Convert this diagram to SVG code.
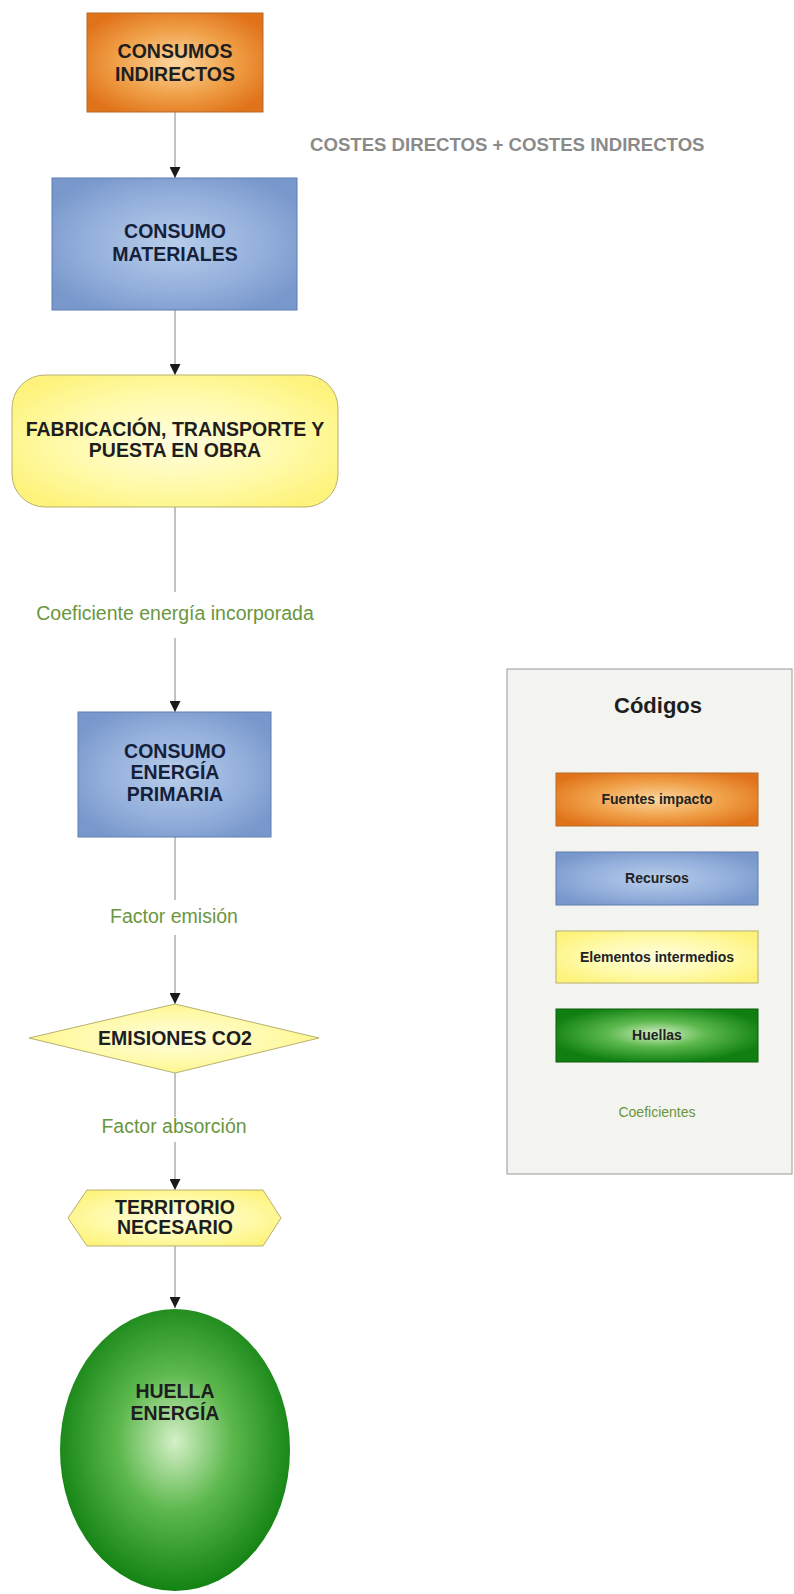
<svg xmlns="http://www.w3.org/2000/svg" width="794" height="1594" viewBox="0 0 794 1594">
<style>
.t{font-family:"Liberation Sans",Arial,sans-serif;font-weight:bold;font-size:19.5px;fill:#1e1e1e;text-anchor:middle}
.tb{fill:#15203a}
.lbl{font-family:"Liberation Sans",Arial,sans-serif;font-size:19.5px;fill:#6a9640;text-anchor:middle}
.lg{font-family:"Liberation Sans",Arial,sans-serif;font-weight:bold;font-size:14px;fill:#222;text-anchor:middle}
.con{stroke:#c2c2c2;stroke-width:2;fill:none}
</style>
<defs>
<radialGradient id="gO" cx="50%" cy="50%" r="60%"><stop offset="0" stop-color="#fbd6a0"/><stop offset="0.55" stop-color="#f0a048"/><stop offset="1" stop-color="#e0731a"/></radialGradient>
<radialGradient id="gB" cx="50%" cy="50%" r="60%"><stop offset="0" stop-color="#b8cdea"/><stop offset="0.6" stop-color="#93afdb"/><stop offset="1" stop-color="#7897cb"/></radialGradient>
<radialGradient id="gY" cx="50%" cy="50%" r="60%"><stop offset="0" stop-color="#fffde0"/><stop offset="0.6" stop-color="#fffaa8"/><stop offset="1" stop-color="#fdf37c"/></radialGradient>
<radialGradient id="gG" cx="50%" cy="47%" r="55%"><stop offset="0" stop-color="#d5f0c8"/><stop offset="0.45" stop-color="#5cb84c"/><stop offset="1" stop-color="#0e7f10"/></radialGradient>
<marker id="ar" viewBox="0 0 10 10" refX="10" refY="5" markerWidth="11" markerHeight="11" markerUnits="userSpaceOnUse" orient="auto"><path d="M0,0 L10,5 L0,10 z" fill="#1a1a1a"/></marker>
</defs>
<rect width="794" height="1594" fill="#ffffff"/>
<g id="connectors">
<line class="con" x1="175" y1="112" x2="175" y2="178" marker-end="url(#ar)"/>
<line class="con" x1="175" y1="310" x2="175" y2="375" marker-end="url(#ar)"/>
<line class="con" x1="175" y1="507" x2="175" y2="592"/>
<line class="con" x1="175" y1="638" x2="175" y2="712" marker-end="url(#ar)"/>
<line class="con" x1="175" y1="837" x2="175" y2="900"/>
<line class="con" x1="175" y1="935" x2="175" y2="1004" marker-end="url(#ar)"/>
<line class="con" x1="175" y1="1073" x2="175" y2="1117"/>
<line class="con" x1="175" y1="1142" x2="175" y2="1190" marker-end="url(#ar)"/>
<line class="con" x1="175" y1="1246" x2="175" y2="1308" marker-end="url(#ar)"/>
</g>
<g id="consumos-indirectos">
<rect x="87" y="13" width="176" height="99" fill="url(#gO)" stroke="#b86a2a" stroke-width="1"/>
<text class="t" x="175" y="58">CONSUMOS</text>
<text class="t" x="175" y="81">INDIRECTOS</text>
</g>
<text x="310" y="151" font-family="'Liberation Sans',Arial,sans-serif" font-weight="bold" font-size="18.6" fill="#8a8a8a">COSTES DIRECTOS + COSTES INDIRECTOS</text>
<g id="consumo-materiales">
<rect x="52" y="178" width="245" height="132" fill="url(#gB)" stroke="#5f7fb2" stroke-width="1"/>
<text class="t tb" x="175" y="238">CONSUMO</text>
<text class="t tb" x="175" y="261">MATERIALES</text>
</g>
<g id="fabricacion">
<rect x="12" y="375" width="326" height="132" rx="33" ry="33" fill="url(#gY)" stroke="#b8b070" stroke-width="1"/>
<text class="t" x="175" y="436">FABRICACIÓN, TRANSPORTE Y</text>
<text class="t" x="175" y="457">PUESTA EN OBRA</text>
</g>
<text class="lbl" x="175" y="620">Coeficiente energía incorporada</text>
<g id="consumo-energia">
<rect x="78" y="712" width="193" height="125" fill="url(#gB)" stroke="#5f7fb2" stroke-width="1"/>
<text class="t tb" x="175" y="758">CONSUMO</text>
<text class="t tb" x="175" y="779">ENERGÍA</text>
<text class="t tb" x="175" y="801">PRIMARIA</text>
</g>
<text class="lbl" x="174" y="923">Factor emisión</text>
<g id="emisiones">
<polygon points="175,1004 319,1038 175,1073 29,1038" fill="url(#gY)" stroke="#b8b070" stroke-width="1"/>
<text class="t" x="175" y="1045">EMISIONES CO2</text>
</g>
<text class="lbl" x="174" y="1133">Factor absorción</text>
<g id="territorio">
<polygon points="87,1190 263,1190 281,1218 263,1246 87,1246 68,1218" fill="url(#gY)" stroke="#b8b070" stroke-width="1"/>
<text class="t" x="175" y="1214">TERRITORIO</text>
<text class="t" x="175" y="1234">NECESARIO</text>
</g>
<g id="huella">
<ellipse cx="175" cy="1450" rx="115" ry="141" fill="url(#gG)"/>
<text class="t" x="175" y="1398" fill="#1e2e1e">HUELLA</text>
<text class="t" x="175" y="1420" fill="#1e2e1e">ENERGÍA</text>
</g>
<g id="legend">
<rect x="507" y="669" width="285" height="505" fill="#f3f3ef" stroke="#9a9a9a" stroke-width="1"/>
<text x="658" y="713" font-family="'Liberation Sans',Arial,sans-serif" font-weight="bold" font-size="22" fill="#1e1e1e" text-anchor="middle">Códigos</text>
<rect x="556" y="773" width="202" height="53" fill="url(#gO)" stroke="#b86a2a" stroke-width="1"/>
<text class="lg" x="657" y="804">Fuentes impacto</text>
<rect x="556" y="852" width="202" height="53" fill="url(#gB)" stroke="#5f7fb2" stroke-width="1"/>
<text class="lg" x="657" y="883" fill="#15203a">Recursos</text>
<rect x="556" y="931" width="202" height="52" fill="url(#gY)" stroke="#b8b070" stroke-width="1"/>
<text class="lg" x="657" y="962">Elementos intermedios</text>
<rect x="556" y="1009" width="202" height="53" fill="url(#gG)" stroke="#0b5f0b" stroke-width="1"/>
<text class="lg" x="657" y="1040">Huellas</text>
<text x="657" y="1117" font-family="'Liberation Sans',Arial,sans-serif" font-size="14" fill="#6a9640" text-anchor="middle">Coeficientes</text>
</g>
</svg>
